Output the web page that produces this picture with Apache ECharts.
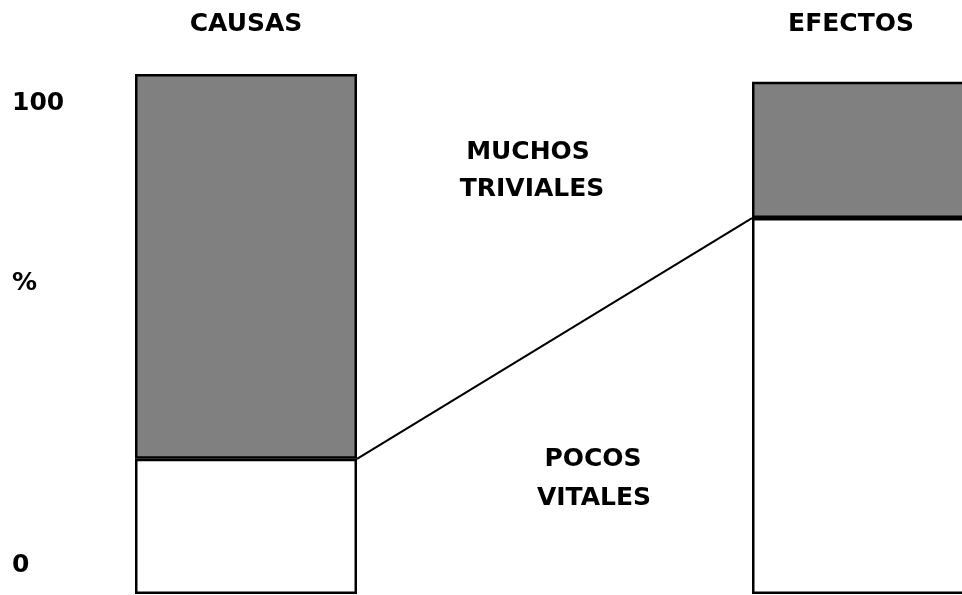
<!DOCTYPE html>
<html>
<head>
<meta charset="utf-8">
<script src="https://cdn.jsdelivr.net/npm/echarts@6/dist/echarts.min.js"></script>
<style>
  html, body { margin: 0; padding: 0; background: #fff; }
  #chart { width: 962px; height: 595px; }
</style>
</head>
<body>
<div id="chart"></div>
<script>
// datos
var categorias = ['CAUSAS', 'EFECTOS'];
var vitales = [26, 72.3];     // parte blanca (pocos vitales)
var triviales = [74, 26.2];   // parte gris (muchos triviales)
var yTickValues = [0, 61, 100];
var yTickLabels = ['0', '%', '100'];

var FONT = 'DejaVu Sans';
var FS = 25;
var BAR_W = 222;

var chart = echarts.init(document.getElementById('chart'));

var option = {
    backgroundColor: '#fff',
    animation: false,
    grid: [
        { left: 246, right: 99, top: 74, bottom: 1 },
        { left: 12, width: 10, top: 103, bottom: 30 }
    ],
    xAxis: [
        {
            type: 'category',
            gridIndex: 0,
            position: 'top',
            boundaryGap: false,
            data: [
                categorias[0],
                { value: categorias[1], textStyle: { padding: [0, 24, 0, 0] } }
            ],
            axisLine: { show: false },
            axisTick: { show: false },
            axisLabel: {
                margin: 37,
                color: '#000',
                fontFamily: FONT,
                fontWeight: 'bold',
                fontSize: FS
            }
        },
        { type: 'value', gridIndex: 1, show: false }
    ],
    yAxis: [
        { type: 'value', gridIndex: 0, min: 0, max: 100, show: false },
        {
            type: 'value',
            gridIndex: 1,
            min: 0,
            max: 100,
            axisLine: { show: false },
            axisTick: { show: false },
            splitLine: { show: false },
            axisLabel: {
                customValues: yTickValues,
                formatter: function (v) {
                    var i = yTickValues.indexOf(v);
                    return i >= 0 ? yTickLabels[i] : '';
                },
                align: 'left',
                margin: 0,
                color: '#000',
                fontFamily: FONT,
                fontWeight: 'bold',
                fontSize: FS
            }
        }
    ],
    series: [
        {
            name: 'Pocos vitales',
            type: 'bar',
            stack: 'total',
            barWidth: BAR_W,
            data: vitales,
            itemStyle: { color: '#fff', borderColor: '#000', borderWidth: 2.5 }
        },
        {
            name: 'Muchos triviales',
            type: 'bar',
            stack: 'total',
            barWidth: BAR_W,
            data: triviales,
            itemStyle: { color: '#808080', borderColor: '#000', borderWidth: 2.5 }
        },
        {
            // linea que une la parte vital de causas con la de efectos
            type: 'custom',
            z: 5,
            data: [[0, vitales[0], 1, vitales[1]]],
            encode: { x: [0, 2], y: [1, 3] },
            renderItem: function (params, api) {
                var p1 = api.coord([api.value(0), api.value(1)]);
                var p2 = api.coord([api.value(2), api.value(3)]);
                return {
                    type: 'line',
                    shape: { x1: p1[0] + BAR_W / 2, y1: p1[1], x2: p2[0] - BAR_W / 2, y2: p2[1] },
                    style: { stroke: '#000', lineWidth: 2 }
                };
            }
        }
    ],
    graphic: [
        { type: 'text', x: 528, y: 152, style: { text: 'MUCHOS', align: 'center', verticalAlign: 'middle', font: 'bold ' + FS + 'px ' + FONT, fill: '#000' } },
        { type: 'text', x: 532, y: 189, style: { text: 'TRIVIALES', align: 'center', verticalAlign: 'middle', font: 'bold ' + FS + 'px ' + FONT, fill: '#000' } },
        { type: 'text', x: 593, y: 459, style: { text: 'POCOS', align: 'center', verticalAlign: 'middle', font: 'bold ' + FS + 'px ' + FONT, fill: '#000' } },
        { type: 'text', x: 594, y: 498, style: { text: 'VITALES', align: 'center', verticalAlign: 'middle', font: 'bold ' + FS + 'px ' + FONT, fill: '#000' } }
    ]
};

chart.setOption(option);
</script>
</body>
</html>
